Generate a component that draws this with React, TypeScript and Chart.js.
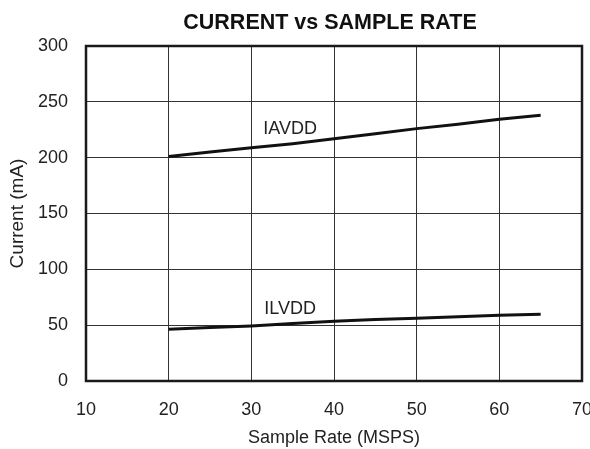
import React, { useEffect, useRef } from "react";
import { Chart, registerables } from "chart.js";

Chart.register(...registerables);

const chartTitle = "CURRENT vs SAMPLE RATE";
const sampleRates = [20, 25, 30, 35, 40, 45, 50, 55, 60, 65];
const iavdd = [201, 205, 208.8, 212.5, 217, 221.5, 226, 230, 234.5, 238];
const ilvdd = [46.3, 47.8, 49.3, 51.5, 53.5, 55, 56.2, 57.6, 58.9, 59.8];
const seriesNames = ["IAVDD", "ILVDD"];
const labelX = [34.7, 34.7];
const labelY = [225.5, 64.5];

const FONT = "'Liberation Sans', Arial, Helvetica, sans-serif";
const TEXT = "#222";

export default function App() {
  const ref = useRef<HTMLCanvasElement | null>(null);
  useEffect(() => {
    if (!ref.current) return;
    const labelsPlugin = {
      id: "seriesLabels",
      afterDatasetsDraw(chart: any) {
        const { ctx, chartArea, scales } = chart;
        ctx.save();
        ctx.strokeStyle = "#1a1a1a";
        ctx.lineWidth = 2.5;
        ctx.strokeRect(chartArea.left, chartArea.top, chartArea.right - chartArea.left, chartArea.bottom - chartArea.top);
        ctx.fillStyle = TEXT;
        ctx.font = `18px ${FONT}`;
        ctx.textAlign = "center";
        ctx.textBaseline = "middle";
        seriesNames.forEach((n, i) => {
          ctx.fillText(n, scales.x.getPixelForValue(labelX[i]), scales.y.getPixelForValue(labelY[i]));
        });
        ctx.fillStyle = "#111";
        ctx.font = `bold 21.5px ${FONT}`;
        ctx.fillText(chartTitle, (chartArea.left + chartArea.right) / 2 - 4, 23);
        ctx.restore();
      },
    };
    const chart = new Chart(ref.current, {
      type: "line",
      data: {
        datasets: [
          {
            label: seriesNames[0],
            data: sampleRates.map((x, i) => ({ x, y: iavdd[i] })),
            borderColor: "#111",
            borderWidth: 3,
            pointRadius: 0,
            tension: 0,
          },
          {
            label: seriesNames[1],
            data: sampleRates.map((x, i) => ({ x, y: ilvdd[i] })),
            borderColor: "#111",
            borderWidth: 3,
            pointRadius: 0,
            tension: 0,
          },
        ],
      },
      options: {
        animation: false,
        responsive: false,
        devicePixelRatio: 1,
        layout: { padding: { left: 0, right: 8, top: 46, bottom: 0 } },
        plugins: {
          legend: { display: false },
          tooltip: { enabled: false },
          title: { display: false },
        },
        scales: {
          x: {
            type: "linear",
            min: 10,
            max: 70,
            afterFit: (s: any) => { s.height = 68; s.paddingLeft = 0; s.paddingRight = 0; },
            ticks: { stepSize: 10, color: TEXT, font: { family: FONT, size: 18 }, padding: 18, maxRotation: 0 },
            grid: { color: "#333", lineWidth: 1, drawTicks: false },
            border: { display: false },
            title: { display: true, text: "Sample Rate (MSPS)", color: TEXT, font: { family: FONT, size: 18 }, padding: { top: 0, bottom: 0 } },
          },
          y: {
            type: "linear",
            min: 0,
            max: 300,
            afterFit: (s: any) => { s.width = 86; s.paddingTop = 0; s.paddingBottom = 0; },
            ticks: { stepSize: 50, color: TEXT, font: { family: FONT, size: 18 }, padding: 18 },
            grid: { color: "#333", lineWidth: 1, drawTicks: false },
            border: { display: false },
            title: { display: true, text: "Current (mA)", color: TEXT, font: { family: FONT, size: 19 }, padding: { top: 6, bottom: 0 } },
          },
        },
      },
      plugins: [labelsPlugin],
    } as any);
    return () => chart.destroy();
  }, []);
  return (
    <div style={{ position: "absolute", left: 0, top: 0, width: 590, height: 449, background: "#fff" }}>
      <canvas ref={ref} width={590} height={449} style={{ display: "block", width: 590, height: 449 }} />
    </div>
  );
}
